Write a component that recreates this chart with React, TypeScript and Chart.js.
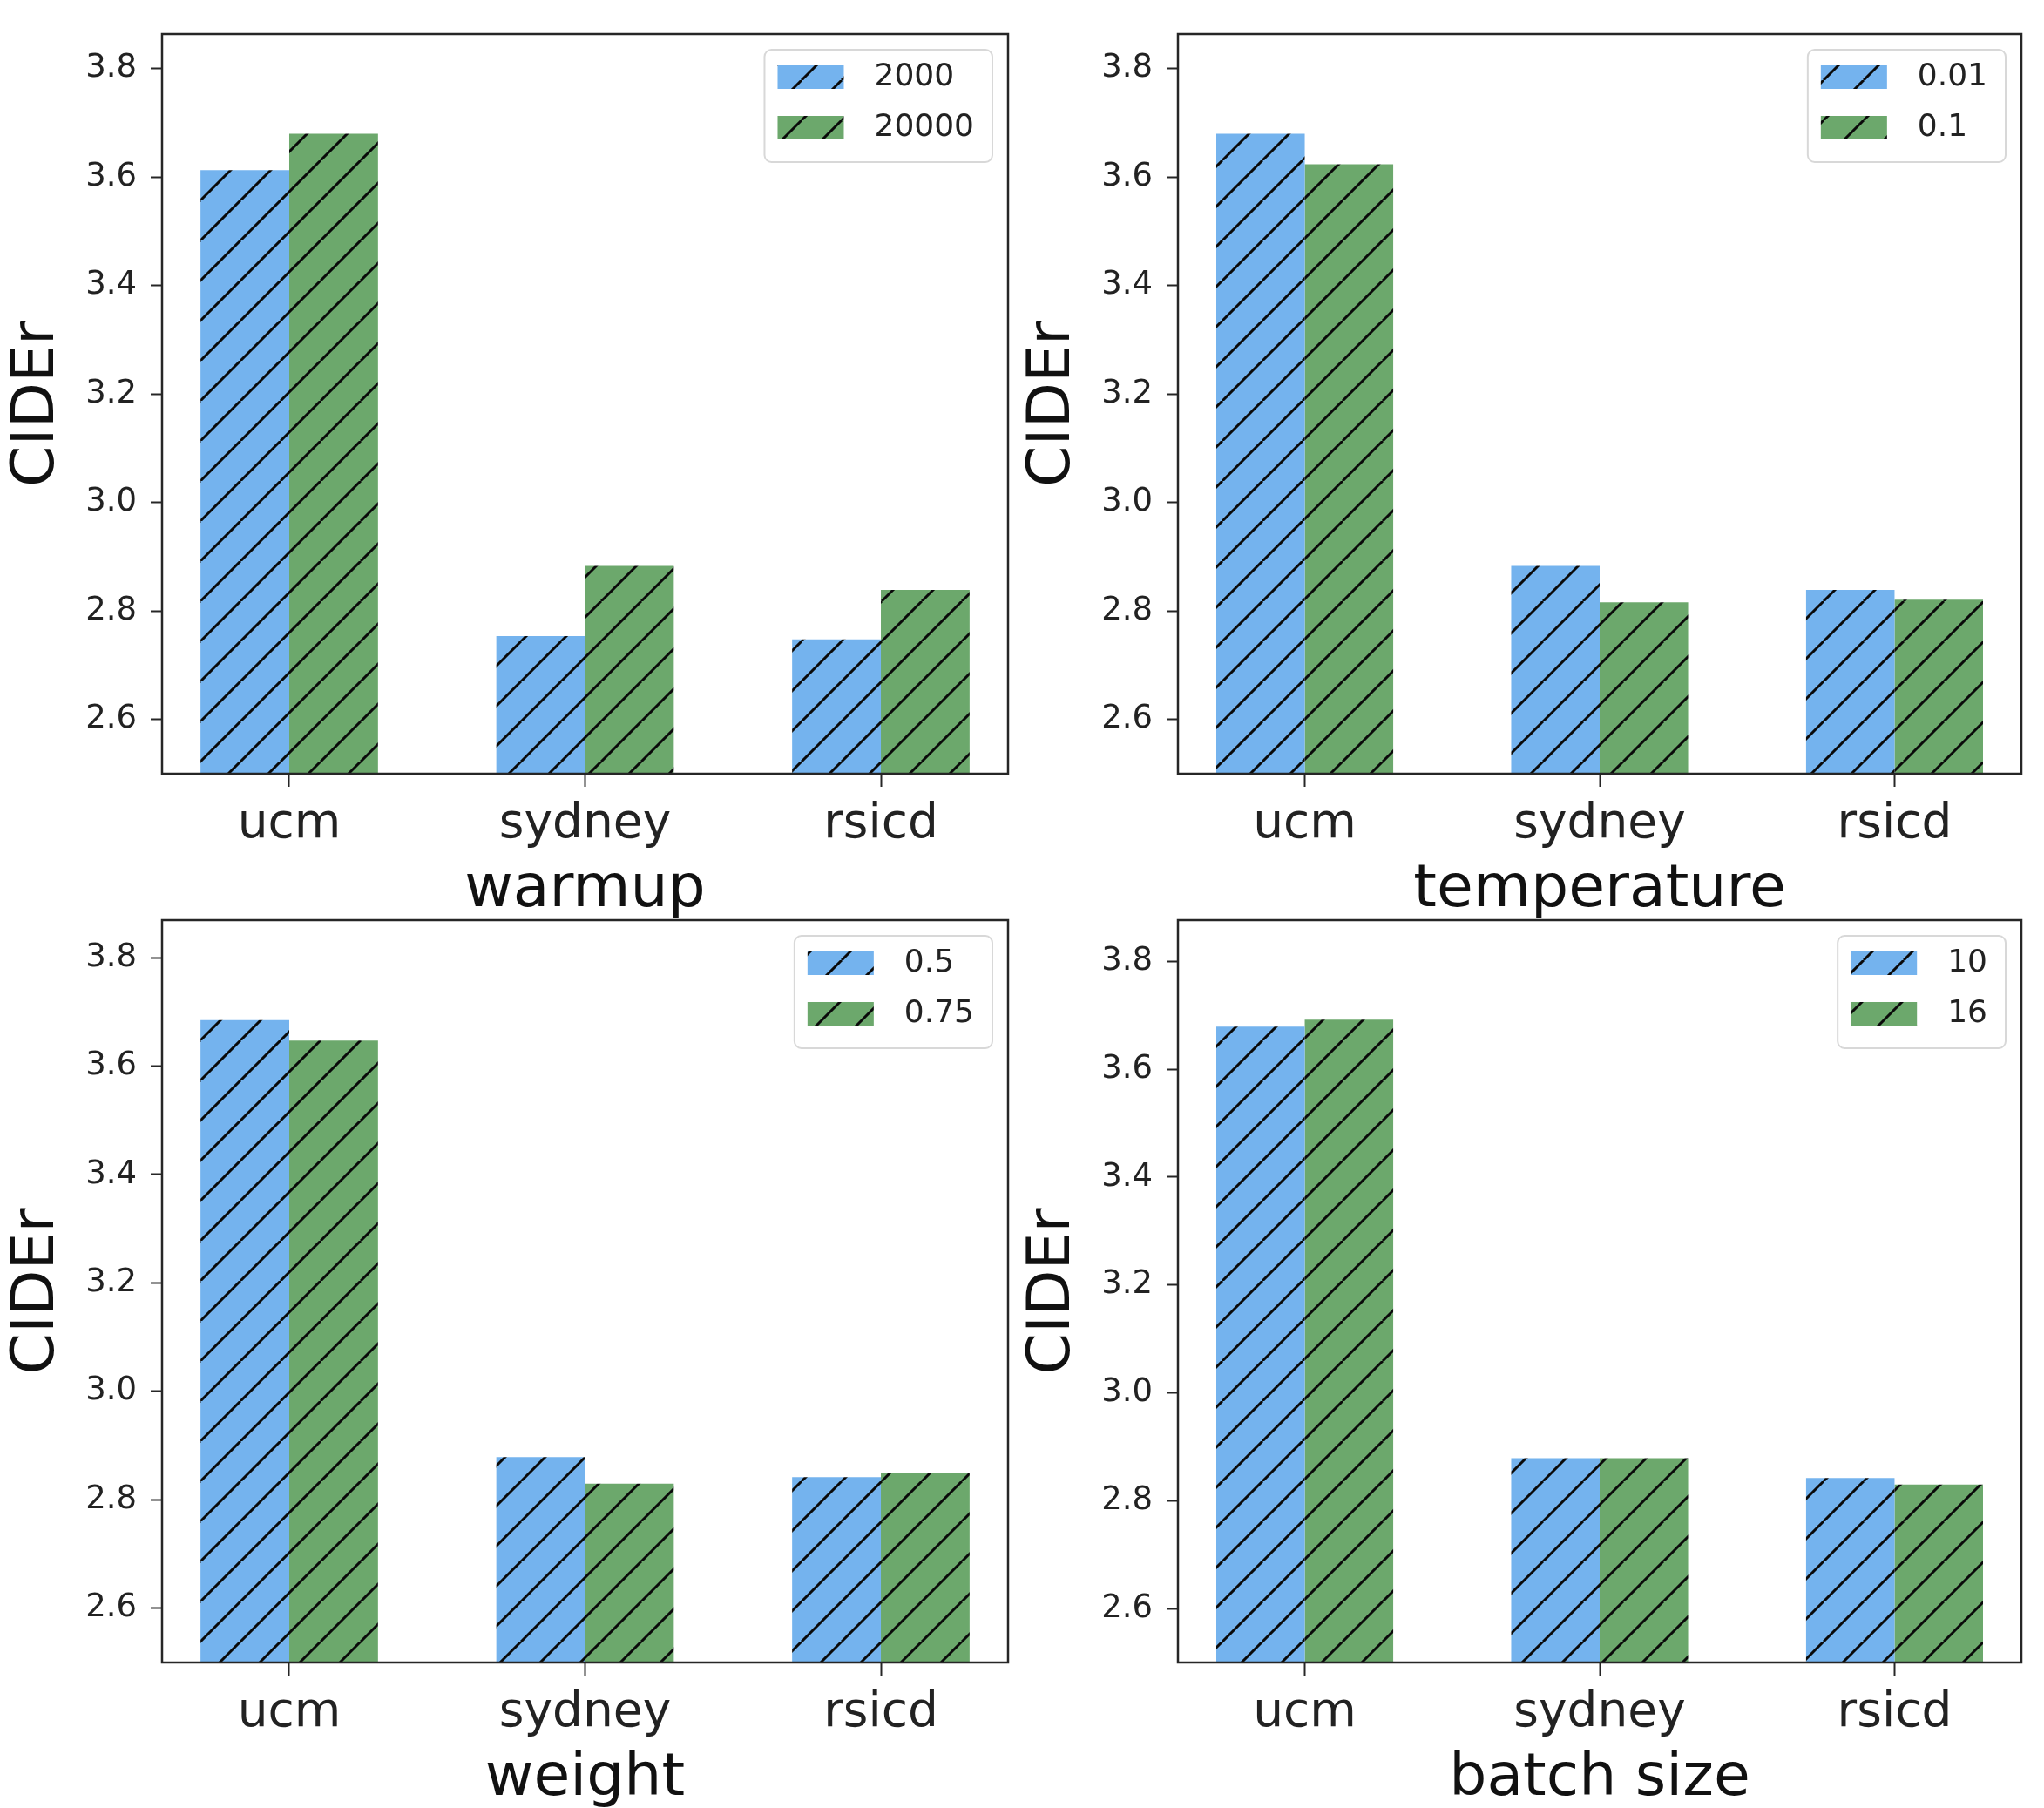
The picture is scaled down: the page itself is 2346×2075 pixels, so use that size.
import { useEffect, useRef } from "react"
import { Chart, registerables } from "chart.js"

Chart.register(...registerables)

// 数据
const categories = ["ucm", "sydney", "rsicd"]
const yTickValues = [2.6, 2.8, 3.0, 3.2, 3.4, 3.6, 3.8]

const warmupLabels = ["2000", "20000"]
const warmup2000 = [3.613, 2.754, 2.748]
const warmup20000 = [3.68, 2.883, 2.839]

const temperatureLabels = ["0.01", "0.1"]
const temperature001 = [3.68, 2.883, 2.839]
const temperature01 = [3.624, 2.816, 2.821]

const weightLabels = ["0.5", "0.75"]
const weight05 = [3.685, 2.879, 2.842]
const weight075 = [3.647, 2.83, 2.85]

const batchLabels = ["10", "16"]
const batch10 = [3.679, 2.879, 2.842]
const batch16 = [3.692, 2.879, 2.83]

const BLUE = "#74b3ee"
const GREEN = "#6ca86c"
const INK = "#222222"
const SPINE = "#262626"
const FONT = "'DejaVu Sans', sans-serif"

Chart.defaults.font.family = FONT

function makeHatch(ctx: CanvasRenderingContext2D, color: string) {
  const s = 46
  const c = document.createElement("canvas")
  c.width = s
  c.height = s
  const g = c.getContext("2d")!
  g.fillStyle = color
  g.fillRect(0, 0, s, s)
  g.strokeStyle = "#0a0a0a"
  g.lineWidth = 3
  g.beginPath()
  for (const k of [-1, 0, 1]) {
    g.moveTo(k * s, s)
    g.lineTo(k * s + s, 0)
  }
  g.stroke()
  return ctx.createPattern(c, "repeat")
}

// 坐标框
const framePlugin = {
  id: "frame",
  afterDatasetsDraw(chart: any) {
    const { ctx, chartArea: a } = chart
    ctx.save()
    ctx.strokeStyle = SPINE
    ctx.lineWidth = 2.5
    ctx.strokeRect(a.left, a.top, a.right - a.left, a.bottom - a.top)
    ctx.restore()
  },
}

// 图例（带边框）
const boxLegendPlugin = {
  id: "boxLegend",
  afterDraw(chart: any) {
    const { ctx, chartArea: a } = chart
    const sets = chart.data.datasets
    ctx.save()
    ctx.font = `36px ${FONT}`
    const textW = Math.max(...sets.map((d: any) => ctx.measureText(d.label).width))
    const w = 15 + 76 + 35 + textW + 21
    const h = 18 + 58 + 27 + 26
    const x = a.right - 18 - w
    const y = a.top + 18
    ctx.beginPath()
    ctx.roundRect(x, y, w, h, 8)
    ctx.fillStyle = "rgba(255,255,255,0.85)"
    ctx.fill()
    ctx.strokeStyle = "#d8d8d8"
    ctx.lineWidth = 2
    ctx.stroke()
    sets.forEach((d: any, i: number) => {
      const py = y + 18 + i * 58
      ctx.fillStyle = d.backgroundColor
      ctx.fillRect(x + 15, py, 76, 27)
      ctx.fillStyle = INK
      ctx.textBaseline = "middle"
      ctx.textAlign = "left"
      ctx.fillText(d.label, x + 15 + 76 + 35, py + 14)
    })
    ctx.restore()
  },
}

type PanelProps = {
  title: string
  labels: string[]
  first: number[]
  second: number[]
  left: number
  top: number
  width: number
  height: number
  yAxisW: number
  padTop: number
  padRight: number
  xAxisH: number
}

function Panel(p: PanelProps) {
  const chartRef = useRef<HTMLCanvasElement>(null)
  const chartInstance = useRef<Chart | null>(null)

  useEffect(() => {
    if (!chartRef.current) return
    if (chartInstance.current) chartInstance.current.destroy()
    const ctx = chartRef.current.getContext("2d")
    if (!ctx) return

    const yMax = Math.max(...p.first, ...p.second) * 1.05
    const titleBottomPad = p.xAxisH - 34 - 134
    const yTitlePad = p.yAxisW - 143 - 34

    chartInstance.current = new Chart(ctx, {
      type: "bar",
      data: {
        datasets: [
          {
            label: p.labels[0],
            data: p.first.map((v, i) => ({ x: i, y: v })),
            backgroundColor: makeHatch(ctx, BLUE) as any,
            borderWidth: 0,
            categoryPercentage: 0.6,
            barPercentage: 1.0,
          },
          {
            label: p.labels[1],
            data: p.second.map((v, i) => ({ x: i, y: v })),
            backgroundColor: makeHatch(ctx, GREEN) as any,
            borderWidth: 0,
            categoryPercentage: 0.6,
            barPercentage: 1.0,
          },
        ],
      },
      options: {
        animation: false,
        responsive: false,
        devicePixelRatio: 1,
        layout: { padding: { top: p.padTop, right: p.padRight, left: 0, bottom: 0 } },
        plugins: {
          legend: { display: false },
          tooltip: { enabled: false },
        },
        scales: {
          x: {
            type: "linear",
            min: -0.43,
            max: 2.43,
            bounds: "data",
            offset: false,
            afterBuildTicks: (axis: any) => {
              axis.ticks = categories.map((_, i) => ({ value: i }))
            },
            afterFit: (axis: any) => {
              axis.height = p.xAxisH
            },
            grid: {
              display: true,
              drawOnChartArea: false,
              drawTicks: true,
              tickLength: 15,
              tickColor: SPINE,
              tickWidth: 2,
              offset: false,
            },
            border: { display: false },
            ticks: {
              callback: (v: any) => categories[Number(v)] ?? "",
              font: { size: 55, lineHeight: 1 },
              color: INK,
              padding: 16,
              maxRotation: 0,
              autoSkip: false,
            },
            title: {
              display: true,
              text: p.title,
              font: { size: 68, lineHeight: 1 },
              color: "#111",
              padding: { top: 0, bottom: titleBottomPad },
            },
          },
          y: {
            min: 2.5,
            max: yMax,
            bounds: "data",
            afterBuildTicks: (axis: any) => {
              axis.ticks = yTickValues.map((v) => ({ value: v }))
            },
            afterFit: (axis: any) => {
              axis.width = p.yAxisW
            },
            grid: {
              display: true,
              drawOnChartArea: false,
              drawTicks: true,
              tickLength: 13,
              tickColor: SPINE,
              tickWidth: 2,
            },
            border: { display: false },
            ticks: {
              callback: (v: any) => Number(v).toFixed(1),
              font: { size: 37 },
              color: INK,
              padding: 16,
            },
            title: {
              display: true,
              text: "CIDEr",
              font: { size: 68, lineHeight: 1 },
              color: "#111",
              padding: { top: yTitlePad, bottom: 0 },
            },
          },
        },
      },
      plugins: [framePlugin, boxLegendPlugin],
    })

    return () => {
      if (chartInstance.current) {
        chartInstance.current.destroy()
        chartInstance.current = null
      }
    }
  }, [])

  return (
    <canvas
      ref={chartRef}
      width={p.width}
      height={p.height}
      style={{ position: "absolute", left: p.left, top: p.top, width: p.width, height: p.height }}
    />
  )
}

export default function App() {
  return (
    <div style={{ position: "absolute", left: 0, top: 0, width: 2346, height: 2075, background: "#fff", overflow: "hidden" }}>
      <Panel title="warmup" labels={warmupLabels} first={warmup2000} second={warmup20000}
        left={0} top={0} width={1173} height={1075} yAxisW={186} padTop={39} padRight={16} xAxisH={187} />
      <Panel title="temperature" labels={temperatureLabels} first={temperature001} second={temperature01}
        left={1173} top={0} width={1173} height={1075} yAxisW={179} padTop={39} padRight={26} xAxisH={187} />
      <Panel title="weight" labels={weightLabels} first={weight05} second={weight075}
        left={0} top={1010} width={1173} height={1065} yAxisW={186} padTop={46} padRight={16} xAxisH={167} />
      <Panel title="batch size" labels={batchLabels} first={batch10} second={batch16}
        left={1173} top={1010} width={1173} height={1065} yAxisW={179} padTop={46} padRight={26} xAxisH={167} />
    </div>
  )
}
